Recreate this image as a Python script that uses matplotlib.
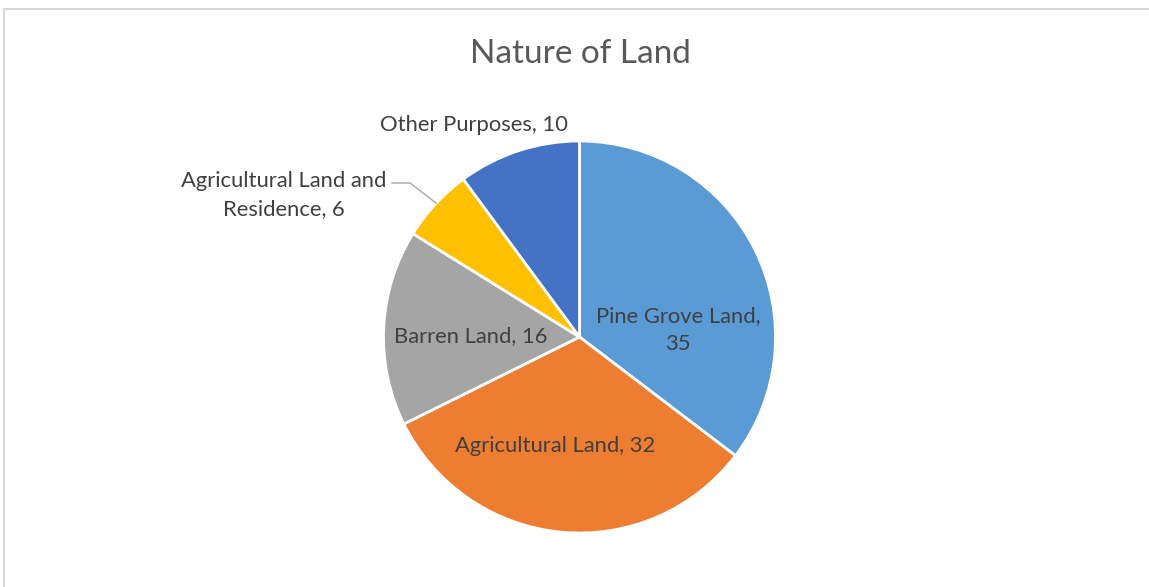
import matplotlib
matplotlib.use("Agg")
import matplotlib.pyplot as plt
from matplotlib.patches import Rectangle

categories = ["Pine Grove Land", "Agricultural Land", "Barren Land",
              "Agricultural Land and Residence", "Other Purposes"]
values = [35, 32, 16, 6, 10]
colors = ["#5B9BD5", "#ED7D31", "#A5A5A5", "#FFC000", "#4472C4"]
title = "Nature of Land"

W, H = 1149, 587
fig = plt.figure(figsize=(W / 100, H / 100), dpi=100)
plt.rcParams['font.family'] = ['Lato', 'DejaVu Sans']
txt_color = "#404040"

# figure border
fig.patches.append(Rectangle((3.5 / W, -0.1), 1.2, 1.1 - 8.5 / H, transform=fig.transFigure,
                             fill=False, edgecolor="#D9D9D9", linewidth=1.5))

cx, cy, r = 579.5, 337.0, 196.0
ax = fig.add_axes([0, 0, 1, 1])
wedges, _ = ax.pie(values, colors=colors, startangle=90, counterclock=False,
                   radius=1, center=(0, 0),
                   wedgeprops=dict(edgecolor="white", linewidth=2.0))
ax.set_aspect('auto')
ax.set_xlim(-cx / r, (W - cx) / r)
ax.set_ylim(-(H - cy) / r, cy / r)
ax.axis('off')

def px(x, y):
    return ((x - cx) / r, (cy - y) / r)

label_pos = [px(678, 330), px(555, 446), px(471, 336), px(284, 195), px(474, 125)]
label_txt = [f"{categories[0]},\n{values[0]}",
             f"{categories[1]}, {values[1]}",
             f"{categories[2]}, {values[2]}",
             "Agricultural Land and\nResidence, " + str(values[3]),
             f"{categories[4]}, {values[4]}"]
for (x, y), t in zip(label_pos, label_txt):
    ax.text(x, y, t, ha='center', va='center', fontsize=15.8, color=txt_color,
            linespacing=1.55)

# leader line
lx, ly = zip(px(392, 183), px(410, 183), px(436, 203))
ax.plot(lx, ly, color="#A6A6A6", linewidth=1.0)

fig.text(580 / W, 1 - 54 / H, title, ha='center', va='center', fontsize=24, color="#595959")

fig.savefig("out.png", dpi=100)
